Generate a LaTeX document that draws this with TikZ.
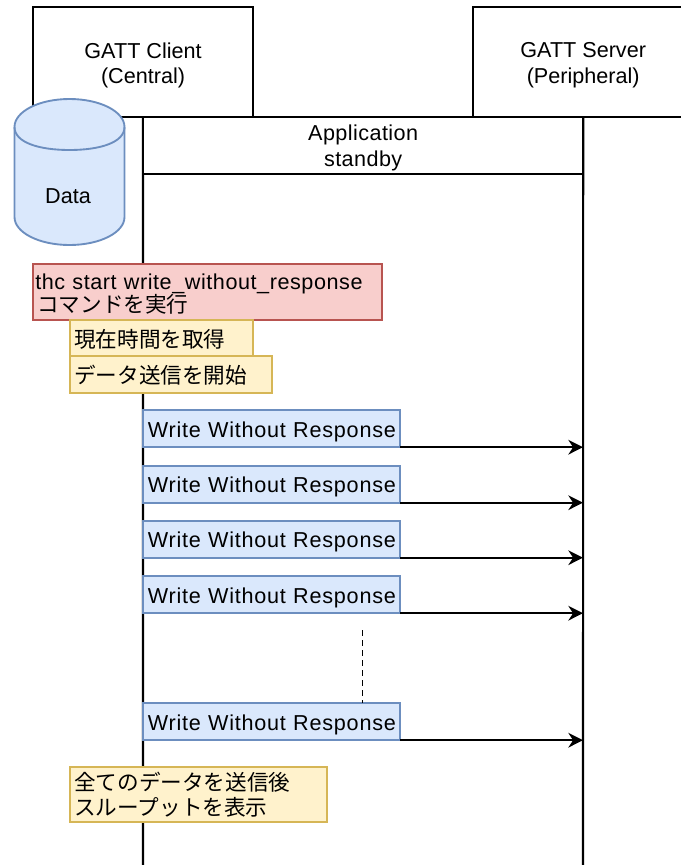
\documentclass[tikz,border=0pt]{standalone}
\usepackage{fontspec}
\setmainfont{Liberation Sans}
\newfontfamily\cjk{Noto Sans CJK JP}
\newfontfamily\spaced[LetterSpace=3.6]{Liberation Sans}
\newfontfamily\redspaced[LetterSpace=2.6]{Liberation Sans}
\newfontfamily\slight[LetterSpace=2]{Liberation Sans}
\newcommand\dn[2]{\raisebox{-#1}[\height][\depth]{#2}}
\usetikzlibrary{arrows.meta}
\definecolor{bluefill}{HTML}{DAE8FC}
\definecolor{blueline}{HTML}{6C8EBF}
\definecolor{redfill}{HTML}{F8CECC}
\definecolor{redline}{HTML}{B85450}
\definecolor{yelfill}{HTML}{FFF2CC}
\definecolor{yelline}{HTML}{D6B656}
\tikzset{
  every node/.style={font=\fontsize{16.2pt}{19pt}\selectfont},
  sized/.style 2 args={anchor=north west,minimum width={#1*0.75pt},minimum height={#2*0.75pt},text width={(#1-9)*0.75pt},inner xsep=3.375pt,inner ysep=0pt,line width=1.4pt,align=left,outer sep=0pt},
  plain/.style 2 args={anchor=north west,minimum width={#1*0.75pt},minimum height={#2*0.75pt},inner sep=0pt,outer sep=0pt,draw=black,fill=white,line width=1.4pt,align=center},
  bluebox/.style={sized={#1}{37},draw=blueline,fill=bluefill},
  redbox/.style 2 args={sized={#1}{#2},draw=redline,fill=redfill,inner xsep=1.5pt},
  yelbox/.style 2 args={sized={#1}{#2},draw=yelline,fill=yelfill,inner xsep=2pt},
  lifeline/.style={draw=black,line width=1.6pt},
  msg/.style={draw=black,line width=1.6pt,-{Stealth[length=11pt,width=11pt]}},
}
\begin{document}
\begin{tikzpicture}[x=0.75pt,y=-0.75pt]
\useasboundingbox[clip] (0,0) rectangle (681,865);
% headers
\node[plain={220.5}{110}] (client) at (32.8,7.2) {\dn{2.25pt}{GATT Client}\\\dn{2.25pt}{(Central)}};
\node[plain={220}{110}] (server) at (473.2,7.2) {\dn{2.25pt}{GATT Server}\\\dn{2.25pt}{(Peripheral)}};
% lifelines
\coordinate (cend) at (143,866);
\coordinate (send) at (583,866);
\draw[lifeline] (client.south) -- (cend);
\draw[lifeline] (server.south) -- (send);
\node[plain={440}{56.5}] (app) at (143.2,117.2) {\dn{1.5pt}{\slight Application}\\\dn{2pt}{\slight standby}};
% cylinder
\path[draw=blueline,fill=bluefill,line width=1.4pt]
  (14.5,127) .. controls (14.5,111.5) and (39,99) .. (69.5,99)
  .. controls (100,99) and (124.5,111.5) .. (124.5,127)
  -- (124.5,217) .. controls (124.5,232.5) and (100,245) .. (69.5,245)
  .. controls (39,245) and (14.5,232.5) .. (14.5,217) -- cycle;
\path[draw=blueline,line width=1.4pt]
  (14.5,127) .. controls (14.5,142.5) and (39,150) .. (69.5,150)
  .. controls (100,150) and (124.5,142.5) .. (124.5,127);
\node (data) at (68,196) {Data};
% notes
\node[redbox={349.5}{55.5}] (cmd) at (32.8,264.2) {\hspace*{-1.5pt}\dn{2.25pt}{\redspaced thc start write\_without\_response}\\\dn{0.75pt}{\cjk コマンドを実行}};
\node[yelbox={183.5}{36.5}] (now) at (69.8,319.7) {\dn{0.75pt}{\cjk 現在時間を取得}};
\node[yelbox={202.5}{37}] (start) at (69.8,356.2) {\cjk データ送信を開始};
\node[yelbox={257.5}{55}] (done) at (69.8,767.2) {{\cjk 全てのデータを送信後}\\{\cjk スループットを表示}};
% messages
\node[bluebox=256.5] (w1) at (143.3,410.2) {\dn{2.25pt}{\spaced Write Without Response}};
\node[bluebox=256.5] (w2) at (143.3,465.7) {\dn{2.25pt}{\spaced Write Without Response}};
\node[bluebox=256.5] (w3) at (143.3,520.7) {\dn{2.25pt}{\spaced Write Without Response}};
\node[bluebox=256.5] (w4) at (143.3,576.2) {\dn{2.25pt}{\spaced Write Without Response}};
\node[bluebox=256.5] (w5) at (143.3,703.2) {\dn{2.25pt}{\spaced Write Without Response}};
\coordinate (t1) at (583,447.2);
\coordinate (t2) at (583,502.7);
\coordinate (t3) at (583,557.7);
\coordinate (t4) at (583,613.2);
\coordinate (t5) at (583,740.2);
\draw[msg] (w1.east |- t1) -- (t1);
\draw[msg] (w2.east |- t2) -- (t2);
\draw[msg] (w3.east |- t3) -- (t3);
\draw[msg] (w4.east |- t4) -- (t4);
\draw[msg] (w5.east |- t5) -- (t5);
\coordinate (dtop) at (362.7,630);
\draw[black,line width=1.15pt,dash pattern=on 4.5pt off 3pt] (dtop) -- (w5.north -| dtop);
\end{tikzpicture}
\end{document}
